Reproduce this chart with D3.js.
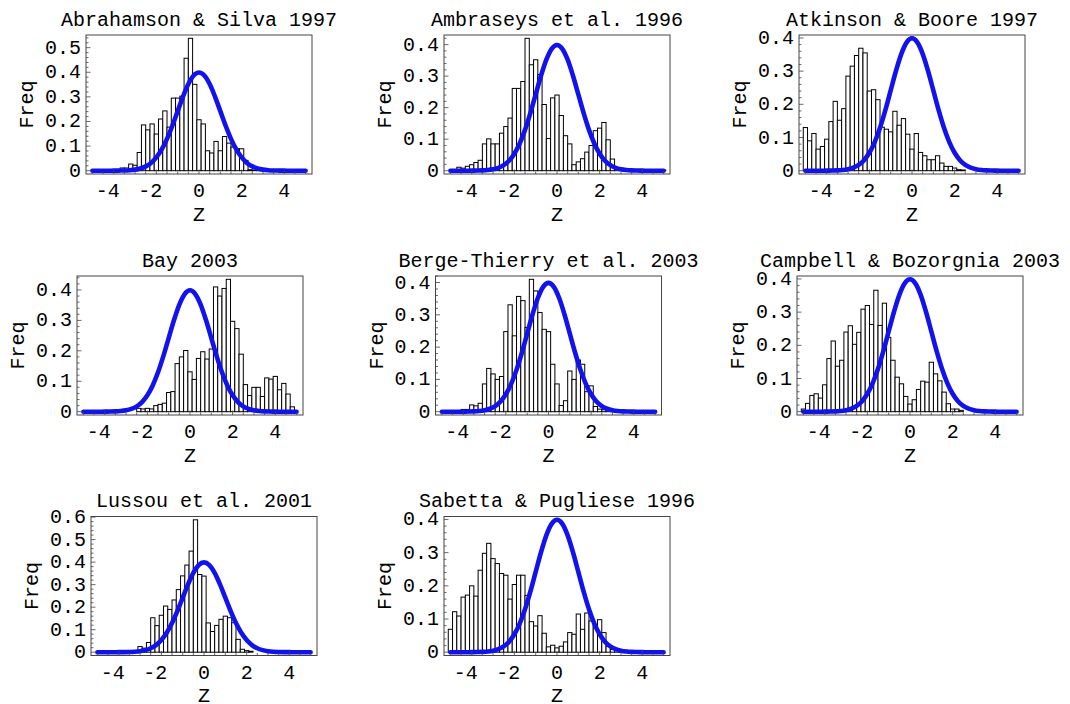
<!DOCTYPE html>
<html><head><meta charset="utf-8">
<script src="https://cdn.jsdelivr.net/npm/d3@7"></script>
<style>
body{margin:0;background:#fff}
text{font-family:"Liberation Mono","Courier New",monospace;font-size:20px;fill:#000}
</style>
</head><body>
<svg id="c" width="1070" height="704"></svg>
<script>
// ---- data ----
const titles = ["Abrahamson & Silva 1997","Ambraseys et al. 1996","Atkinson & Boore 1997",
  "Bay 2003","Berge-Thierry et al. 2003","Campbell & Bozorgnia 2003",
  "Lussou et al. 2001","Sabetta & Pugliese 1996"];
const binWidth = 0.2;
// centre (Z) of the first bar of each histogram
const firstCenters = [-3.8,-4.6,-5.0,-2.4,-4.0,-5.0,-3.2,-5.0];
const freqAbrahamson = [0.004,0.011,0.011,0.027,0.022,0.074,0.186,0.166,0.19,0.149,0.21,0.243,0.177,0.295,0.295,0.303,0.457,0.538,0.351,0.207,0.19,0.081,0.072,0.119,0.081,0.139,0.112,0.096,0.089,0.089,0.042,0.004,0.002,0.002];
const freqAmbraseys = [0.011,0.008,0.014,0.019,0.026,0.033,0.085,0.101,0.085,0.085,0.119,0.14,0.167,0.261,0.261,0.283,0.42,0.336,0.352,0.305,0.21,0.102,0.231,0.24,0.175,0.111,0.085,0.019,0.028,0.038,0.059,0.08,0.127,0.135,0.153,0.098,0.037,0.008,0.004,0.003,0.003,0.002,0.003,0.002,0.002,0.002,0.002,0.002,0.002];
const freqAtkinson = [0.130,0.090,0.112,0.065,0.073,0.095,0.148,0.209,0.152,0.187,0.285,0.315,0.347,0.369,0.355,0.240,0.244,0.214,0.131,0.125,0.117,0.179,0.137,0.157,0.11,0.065,0.112,0.055,0.045,0.033,0.033,0.045,0.023,0.013,0.013,0.008,0.003,0.002];
const freqBay = [0.011,0.009,0.011,0.009,0.02,0.024,0.028,0.063,0.066,0.158,0.18,0.201,0.131,0.106,0.175,0.197,0.173,0.206,0.41,0.38,0.405,0.435,0.297,0.273,0.189,0.089,0.053,0.08,0.08,0.05,0.111,0.107,0.116,0.072,0.093,0.058,0.016];
const freqBerge = [0.007,0.007,0.021,0.018,0.026,0.086,0.134,0.117,0.1,0.109,0.248,0.331,0.235,0.357,0.344,0.261,0.41,0.374,0.307,0.255,0.248,0.147,0.086,0.019,0.034,0.126,0.1,0.16,0.147,0.062,0.08,0.016,0.008,0.006,0.004,0.003,0.002];
const freqCampbell = [0.008,0.025,0.049,0.054,0.041,0.081,0.16,0.213,0.137,0.155,0.24,0.259,0.203,0.239,0.309,0.32,0.263,0.366,0.26,0.327,0.224,0.155,0.104,0.084,0.046,0.023,0.036,0.067,0.092,0.089,0.149,0.114,0.093,0.059,0.024,0.008,0.008,0.004];
const freqLussou = [0.007,0.025,0.018,0.043,0.153,0.118,0.164,0.205,0.19,0.232,0.278,0.339,0.387,0.449,0.588,0.345,0.338,0.13,0.092,0.119,0.146,0.16,0.153,0.131,0.057,0.013,0.007,0.004];
const freqSabetta = [0.069,0.122,0.109,0.166,0.172,0.2,0.169,0.247,0.298,0.328,0.282,0.267,0.237,0.232,0.16,0.204,0.232,0.232,0.171,0.092,0.079,0.11,0.057,0.016,0.021,0.013,0.018,0.031,0.059,0.054,0.115,0.069,0.118,0.094,0.082,0.098,0.059,0.018,0.008,0.008,0.006,0.006,0.005];
const series = [freqAbrahamson,freqAmbraseys,freqAtkinson,freqBay,freqBerge,freqCampbell,freqLussou,freqSabetta];
// blue reference curve (standard normal density)
const curveZ = [-5,-4.75,-4.5,-4.25,-4,-3.75,-3.5,-3.25,-3,-2.75,-2.5,-2.25,-2,-1.75,-1.5,-1.25,-1,-0.75,-0.5,-0.25,0,
  0.25,0.5,0.75,1,1.25,1.5,1.75,2,2.25,2.5,2.75,3,3.25,3.5,3.75,4,4.25,4.5,4.75,5];
const curveFreq = [0,0,0,0,0.0001,0.0004,0.0009,0.0020,0.0044,0.0091,0.0175,0.0317,0.0540,0.0863,0.1295,0.1826,0.2420,0.3011,0.3521,0.3867,0.3989,
  0.3867,0.3521,0.3011,0.2420,0.1826,0.1295,0.0863,0.0540,0.0317,0.0175,0.0091,0.0044,0.0020,0.0009,0.0004,0.0001,0,0,0,0];
const xTickValues = [-4,-2,0,2,4];
const xDomain = [-5.3,5.3];

// ---- layout ----
const W = 226, H = 139;
const panelLeft = [86, 444, 799, 77, 435.5, 797, 91, 444];
const panelTop = [35, 35, 35, 276, 276, 276, 516.5, 516.5];

const svg = d3.select("#c");

titles.forEach((title, i) => {
  const L = panelLeft[i], T = panelTop[i];
  const vals = series[i], c0 = firstCenters[i];
  const bins = vals.map((v, k) => ({c: c0 + k * binWidth, v}));
  const M = Math.max(d3.max(vals), d3.max(curveFreq));
  const pad = 0.025 * M;
  const x = d3.scaleLinear().domain(xDomain).range([L, L + W]);
  const y = d3.scaleLinear().domain([-pad, M + pad]).range([T + H, T]);
  const g = svg.append("g");

  // bars
  g.selectAll("rect.bar").data(bins).join("rect").attr("class", "bar")
    .attr("x", d => x(d.c - binWidth / 2))
    .attr("width", d => x(d.c + binWidth / 2) - x(d.c - binWidth / 2))
    .attr("y", d => y(d.v))
    .attr("height", d => y(0) - y(d.v))
    .attr("fill", "#fff").attr("stroke", "#000").attr("stroke-width", 1);

  // curve
  const line = d3.line().x(d => x(d[0])).y(d => y(d[1])).curve(d3.curveMonotoneX);
  g.append("path").datum(d3.zip(curveZ, curveFreq)).attr("d", line)
    .attr("fill", "none").attr("stroke", "#1212ee").attr("stroke-width", 4.6)
    .attr("stroke-linecap", "round").attr("stroke-linejoin", "round");

  // frame
  g.append("rect").attr("x", L).attr("y", T).attr("width", W).attr("height", H)
    .attr("fill", "none").attr("stroke", "#444").attr("stroke-width", 1);

  // x ticks (inward)
  const xMinor = d3.range(-5, 5.01, 0.5).filter(v => !xTickValues.some(t => Math.abs(t - v) < 1e-6));
  g.selectAll("line.xmin").data(xMinor).join("line")
    .attr("x1", d => x(d)).attr("x2", d => x(d)).attr("y1", T + H).attr("y2", T + H - 2.5)
    .attr("stroke", "#444").attr("stroke-width", 0.8);
  g.selectAll("line.xmaj").data(xTickValues).join("line")
    .attr("x1", d => x(d)).attr("x2", d => x(d)).attr("y1", T + H).attr("y2", T + H - 4.5)
    .attr("stroke", "#444").attr("stroke-width", 0.8);
  g.selectAll("text.xt").data(xTickValues).join("text")
    .attr("x", d => d < 0 ? x(d) + 6 : x(d))
    .attr("y", T + H + 23)
    .attr("text-anchor", d => d < 0 ? "end" : "middle")
    .text(d => d < 0 ? "-" + Math.abs(d) : String(d));

  // y ticks
  const top = M + pad;
  const nMaj = Math.floor(top / 0.1 + 1e-9);
  const yMaj = d3.range(0, nMaj + 1).map(k => k / 10);
  const nMin = Math.floor(top / 0.02 + 1e-9);
  const yMin = d3.range(0, nMin + 1).filter(k => k % 5 !== 0).map(k => k / 50);
  g.selectAll("line.ymin").data(yMin).join("line")
    .attr("x1", L).attr("x2", L + 2.5).attr("y1", d => y(d)).attr("y2", d => y(d))
    .attr("stroke", "#444").attr("stroke-width", 0.8);
  g.selectAll("line.ymaj").data(yMaj).join("line")
    .attr("x1", L).attr("x2", L + 4.5).attr("y1", d => y(d)).attr("y2", d => y(d))
    .attr("stroke", "#444").attr("stroke-width", 0.8);
  g.selectAll("text.yt").data(yMaj).join("text")
    .attr("x", L - 5).attr("y", d => y(d) + 6)
    .attr("text-anchor", "end")
    .text(d => d === 0 ? "0" : d3.format(".1f")(d));

  // labels
  g.append("text").attr("x", L + W / 2).attr("y", T - 9.5).attr("text-anchor", "middle").text(title);
  g.append("text").attr("x", L + W / 2).attr("y", T + H + 46.5).attr("text-anchor", "middle").text("Z");
  g.append("text").attr("transform", `translate(${L - 53},${T + H / 2}) rotate(-90)`)
    .attr("text-anchor", "middle").text("Freq");
});
</script>
</body></html>
